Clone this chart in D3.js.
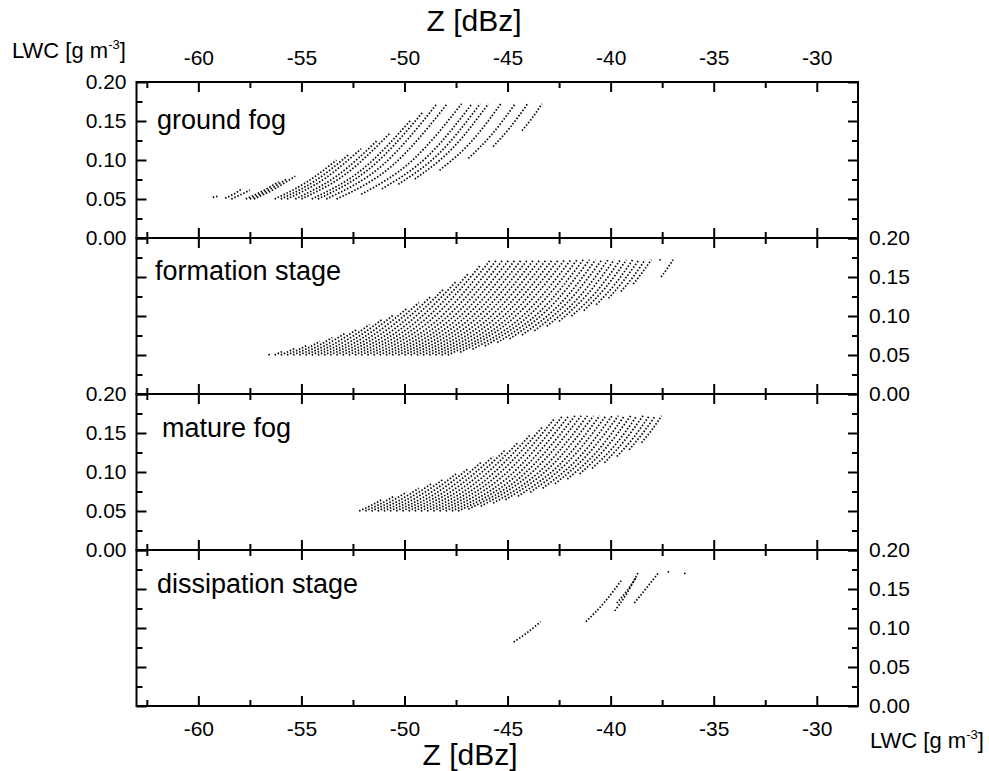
<!DOCTYPE html>
<meta charset="utf-8">
<style>
body {
  margin: 0;
  background: #fff;
}
svg {
  font-family: Arial, "Liberation Sans", sans-serif;
}
.frame {
  fill: none;
  stroke: #000;
  stroke-width: 2;
}
.axis line {
  stroke: #000;
  stroke-width: 2;
}
.axis text {
  font-size: 21px;
  fill: #000;
}
.curve {
  fill: none;
  stroke: #000;
  stroke-width: 1.7;
  stroke-dasharray: 1.5 1.8;
}
.stage {
  font-size: 27px;
}
.title {
  font-size: 30px;
}
.unit {
  font-size: 22px;
}
</style>
<body>
<svg width="989" height="771"></svg>
<script src="https://d3js.org/d3.v7.min.js"></script>
<script>
// panel names, ticks
var panelNames = ["ground fog", "formation stage", "mature fog", "dissipation stage"];
var zTicks = [-60, -55, -50, -45, -40, -35, -30];
var zMinor = [-62.5, -57.5, -52.5, -47.5, -42.5, -37.5, -32.5];
var lwcTicks = [0, 0.05, 0.10, 0.15, 0.20];
var lwcMinor = [0.025, 0.075, 0.125, 0.175];

// each curve = list of [Z dBz, LWC g m-3]
var groundFog = [
  [[-59.3,.052],[-59.0,.054]],
  [[-58.7,.051],[-58.3,.056],[-57.9,.063]],
  [[-58.4,.050],[-57.95,.0555],[-57.5,.0615]],
  [[-57.7,.050],[-56.9,.060],[-56.1,.0722]],
  [[-57.5,.050],[-56.6,.0615],[-55.7,.0757]],
  [[-57.3,.050],[-56.3,.063],[-55.3,.0793]],
  [[-56.3,.050],[-54.8,.0707],[-53.3,.0998]],
  [[-56.0,.050],[-54.35,.0731],[-52.7,.107]],
  [[-55.7,.050],[-53.9,.0757],[-52.1,.1146]],
  [[-55.3,.050],[-53.3,.0793],[-51.3,.1256]],
  [[-55.0,.050],[-52.85,.082],[-50.7,.1346]],
  [[-54.5,.050],[-52.1,.0869],[-49.7,.151]],
  [[-54.2,.050],[-51.65,.0899],[-49.1,.1618]],
  [[-53.8,.050],[-51.1,.0927],[-48.43,.172]],
  [[-53.3,.050],[-50.6,.0927],[-47.93,.172]],
  [[-52.1,.0561],[-49.67,.0983],[-47.23,.172]],
  [[-51.1,.063],[-48.9,.1042],[-46.73,.172]],
  [[-50.3,.069],[-48.3,.109],[-46.33,.172]],
  [[-49.5,.0757],[-47.7,.1142],[-45.93,.172]],
  [[-48.3,.0869],[-46.8,.1223],[-45.33,.172]],
  [[-46.9,.102],[-45.77,.1326],[-44.63,.172]],
  [[-45.7,.1172],[-44.87,.142],[-44.03,.172]],
  [[-44.3,.1377],[-43.8,.154],[-43.33,.172]]
];

var formationStage = [
  [[-56.6,.050],[-56.55,.0506],[-56.5,.0512]],
  [[-56.3,.050],[-56.1,.0524],[-55.9,.0548]],
  [[-56.0,.050],[-55.65,.0542],[-55.3,.0587]],
  [[-55.7,.050],[-55.2,.0561],[-54.7,.0629]],
  [[-55.4,.050],[-54.75,.0581],[-54.1,.0675]],
  [[-55.1,.050],[-54.3,.0601],[-53.5,.0723]],
  [[-54.8,.050],[-53.85,.0622],[-52.9,.0775]],
  [[-54.5,.050],[-53.4,.0644],[-52.3,.0830]],
  [[-54.2,.050],[-52.95,.0667],[-51.7,.0889]],
  [[-53.9,.050],[-52.5,.0690],[-51.1,.0953]],
  [[-53.6,.050],[-52.05,.0715],[-50.5,.1021]],
  [[-53.3,.050],[-51.6,.0740],[-49.9,.1094]],
  [[-53.0,.050],[-51.15,.0766],[-49.3,.1172]],
  [[-52.7,.050],[-50.7,.0792],[-48.7,.1256]],
  [[-52.4,.050],[-50.25,.0820],[-48.1,.1346]],
  [[-52.1,.050],[-49.8,.0849],[-47.5,.1442]],
  [[-51.8,.050],[-49.35,.0879],[-46.9,.1545]],
  [[-51.5,.050],[-48.9,.0910],[-46.3,.1656]],
  [[-51.2,.050],[-48.5,.0927],[-45.83,.172]],
  [[-50.9,.050],[-48.2,.0927],[-45.53,.172]],
  [[-50.6,.050],[-47.9,.0927],[-45.23,.172]],
  [[-50.3,.050],[-47.6,.0927],[-44.93,.172]],
  [[-50.0,.050],[-47.3,.0927],[-44.63,.172]],
  [[-49.7,.050],[-47.0,.0927],[-44.33,.172]],
  [[-49.4,.050],[-46.7,.0927],[-44.03,.172]],
  [[-49.1,.050],[-46.4,.0927],[-43.73,.172]],
  [[-48.8,.050],[-46.1,.0927],[-43.43,.172]],
  [[-48.5,.050],[-45.8,.0927],[-43.13,.172]],
  [[-48.2,.050],[-45.5,.0927],[-42.83,.172]],
  [[-47.9,.050],[-45.2,.0927],[-42.53,.172]],
  [[-47.3,.0536],[-44.77,.0961],[-42.23,.172]],
  [[-46.7,.0574],[-44.3,.0994],[-41.93,.172]],
  [[-46.1,.0615],[-43.87,.1029],[-41.63,.172]],
  [[-45.5,.0659],[-43.4,.1066],[-41.33,.172]],
  [[-44.9,.0707],[-42.97,.1103],[-41.03,.172]],
  [[-44.3,.0757],[-42.5,.1142],[-40.73,.172]],
  [[-43.7,.0811],[-42.07,.1181],[-40.43,.172]],
  [[-43.1,.0869],[-41.6,.1223],[-40.13,.172]],
  [[-42.5,.0931],[-41.17,.1266],[-39.83,.172]],
  [[-41.9,.0998],[-40.7,.1310],[-39.53,.172]],
  [[-41.3,.1069],[-40.27,.1357],[-39.23,.172]],
  [[-40.7,.1146],[-39.8,.1404],[-38.93,.172]],
  [[-40.1,.1227],[-39.37,.1453],[-38.63,.172]],
  [[-39.5,.1315],[-38.9,.1505],[-38.33,.172]],
  [[-38.9,.1409],[-38.47,.1557],[-38.03,.172]],
  [[-37.55,.150],[-37.25,.161],[-36.97,.172]],
  [[-37.6,.172]]
];

var matureFog = [
  [[-52.2,.050],[-51.65,.0567],[-51.1,.0644]],
  [[-51.9,.050],[-51.2,.0587],[-50.5,.0690]],
  [[-51.6,.050],[-50.75,.0608],[-49.9,.0740]],
  [[-51.3,.050],[-50.3,.0629],[-49.3,.0792]],
  [[-51.0,.050],[-49.85,.0652],[-48.7,.0849]],
  [[-50.7,.050],[-49.4,.0675],[-48.1,.0910]],
  [[-50.4,.050],[-48.95,.0698],[-47.5,.0975]],
  [[-50.1,.050],[-48.5,.0723],[-46.9,.1045]],
  [[-49.8,.050],[-48.05,.0748],[-46.3,.1119]],
  [[-49.5,.050],[-47.6,.0775],[-45.7,.1199]],
  [[-49.2,.050],[-47.15,.0802],[-45.1,.1285]],
  [[-48.9,.050],[-46.7,.0830],[-44.5,.1377]],
  [[-48.6,.050],[-46.25,.0859],[-43.9,.1476]],
  [[-48.3,.050],[-45.8,.0889],[-43.3,.1581]],
  [[-48.0,.050],[-45.35,.0920],[-42.7,.1694]],
  [[-47.7,.050],[-45.0,.0927],[-42.33,.172]],
  [[-47.4,.050],[-44.7,.0927],[-42.03,.172]],
  [[-46.9,.0524],[-44.3,.0950],[-41.73,.172]],
  [[-46.3,.0561],[-43.87,.0983],[-41.43,.172]],
  [[-45.7,.0601],[-43.4,.1017],[-41.13,.172]],
  [[-45.1,.0644],[-42.97,.1053],[-40.83,.172]],
  [[-44.5,.0690],[-42.5,.1090],[-40.53,.172]],
  [[-43.9,.0740],[-42.07,.1128],[-40.23,.172]],
  [[-43.3,.0792],[-41.6,.1168],[-39.93,.172]],
  [[-42.7,.0849],[-41.17,.1209],[-39.63,.172]],
  [[-42.1,.0910],[-40.7,.1252],[-39.33,.172]],
  [[-41.5,.0975],[-40.27,.1296],[-39.03,.172]],
  [[-40.9,.1045],[-39.8,.1341],[-38.73,.172]],
  [[-40.3,.1119],[-39.37,.1388],[-38.43,.172]],
  [[-39.7,.1199],[-38.9,.1437],[-38.13,.172]],
  [[-39.1,.1285],[-38.47,.1488],[-37.83,.172]],
  [[-38.5,.1377],[-38.0,.1540],[-37.53,.172]]
];

var dissipationStage = [
  [[-44.7,.082],[-44.05,.094],[-43.4,.108]],
  [[-41.2,.108],[-40.3,.133],[-39.45,.162]],
  [[-39.8,.122],[-39.2,.145],[-38.65,.172]],
  [[-39.7,.132],[-39.2,.148],[-38.75,.165]],
  [[-38.85,.132],[-38.3,.150],[-37.7,.170]],
  [[-37.2,.172]],
  [[-36.4,.170]]
];

var panels = [groundFog, formationStage, matureFog, dissipationStage];

var svg = d3.select("svg");
var top0 = 82, ph = 156, left = 136.5, right = 858;

var x = d3.scaleLinear().domain([-63, -28]).range([left, right]);

var plain = function(d) { return String(d); };   // keep hyphen-minus like the original
var fix2 = function(d) { return d.toFixed(2); };

panels.forEach(function(curves, i) {
  var y = d3.scaleLinear().domain([0, 0.2]).range([top0 + (i + 1) * ph, top0 + i * ph]);
  var g = svg.append("g");
  var labelLeft = (i % 2 == 0);

  // y ticks both sides, inward
  g.append("g").attr("class", "axis")
      .attr("transform", "translate(" + left + ",0)")
      .call(d3.axisLeft(y).tickValues(lwcTicks).tickSize(-10).tickPadding(10)
        .tickFormat(labelLeft ? fix2 : ""));
  g.append("g").attr("class", "axis")
      .attr("transform", "translate(" + left + ",0)")
      .call(d3.axisLeft(y).tickValues(lwcMinor).tickSize(-6).tickFormat(""));
  g.append("g").attr("class", "axis")
      .attr("transform", "translate(" + right + ",0)")
      .call(d3.axisRight(y).tickValues(lwcTicks).tickSize(-10).tickPadding(11)
        .tickFormat(labelLeft ? "" : fix2));
  g.append("g").attr("class", "axis")
      .attr("transform", "translate(" + right + ",0)")
      .call(d3.axisRight(y).tickValues(lwcMinor).tickSize(-6).tickFormat(""));

  // x ticks top and bottom, inward
  var yt = top0 + i * ph, yb = top0 + (i + 1) * ph;
  g.append("g").attr("class", "axis")
      .attr("transform", "translate(0," + yt + ")")
      .call(d3.axisTop(x).tickValues(zTicks).tickSize(-10).tickPadding(17)
        .tickFormat(i == 0 ? plain : ""));
  g.append("g").attr("class", "axis")
      .attr("transform", "translate(0," + yt + ")")
      .call(d3.axisTop(x).tickValues(zMinor).tickSize(-6).tickFormat(""));
  g.append("g").attr("class", "axis")
      .attr("transform", "translate(0," + yb + ")")
      .call(d3.axisBottom(x).tickValues(zTicks).tickSize(-10).tickPadding(15)
        .tickFormat(i == 3 ? plain : ""));
  g.append("g").attr("class", "axis")
      .attr("transform", "translate(0," + yb + ")")
      .call(d3.axisBottom(x).tickValues(zMinor).tickSize(-6).tickFormat(""));

  g.selectAll(".axis").attr("font-family", null).attr("font-size", null);
  g.selectAll(".axis .domain").remove();

  g.append("rect").attr("class", "frame")
      .attr("x", left).attr("y", yt)
      .attr("width", right - left).attr("height", ph);

  var line = d3.line()
      .x(function(d) { return x(d[0]); })
      .y(function(d) { return y(d[1]); })
      .curve(d3.curveMonotoneX);

  g.selectAll(".curve")
    .data(curves.filter(function(c) { return c.length > 1; }))
    .enter().append("path")
      .attr("class", "curve")
      .attr("d", line);

  g.selectAll(".single")
    .data(curves.filter(function(c) { return c.length == 1; }))
    .enter().append("circle")
      .attr("cx", function(c) { return x(c[0][0]); })
      .attr("cy", function(c) { return y(c[0][1]); })
      .attr("r", 0.9)
      .attr("fill", "#000");
});

// stage names
var stageX = [157, 155, 162, 157], stageY = [129, 280, 437, 593];
svg.selectAll(".stage")
  .data(panelNames)
  .enter().append("text")
    .attr("class", "stage")
    .attr("x", function(d, i) { return stageX[i]; })
    .attr("y", function(d, i) { return stageY[i]; })
    .text(function(d) { return d; });

// axis titles
svg.append("text").attr("class", "title")
    .attr("x", 474).attr("y", 31).attr("text-anchor", "middle")
    .text("Z [dBz]");
svg.append("text").attr("class", "title")
    .attr("x", 470).attr("y", 765).attr("text-anchor", "middle")
    .text("Z [dBz]");

function unitLabel(px, py) {
  var t = svg.append("text").attr("class", "unit").attr("x", px).attr("y", py);
  t.append("tspan").text("LWC [g m");
  t.append("tspan").attr("dy", -9).attr("font-size", "13px").text("-3");
  t.append("tspan").attr("dy", 9).text("]");
}
unitLabel(12, 58);
unitLabel(870, 748);
</script>
</body>
